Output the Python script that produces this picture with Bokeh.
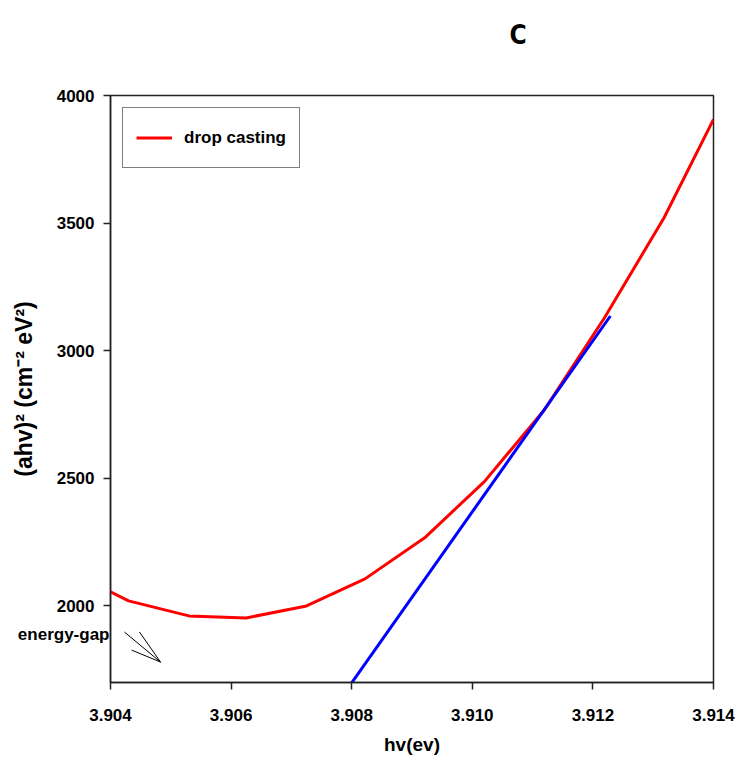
from bokeh.plotting import figure
from bokeh.models import Legend, LegendItem, FixedTicker, LinearAxis, Title
from bokeh.embed import file_html
from bokeh.resources import INLINE

# data
hv = [3.9040, 3.90430, 3.90530, 3.90625, 3.90725, 3.90822, 3.90921, 3.91020,
      3.91120, 3.91219, 3.91318, 3.9140]
ahv2 = [2055, 2020, 1961, 1953, 2000, 2106, 2267, 2487, 2770, 3128, 3521, 3906]

fit_hv = [3.90795, 3.91229]
fit_val = [1682, 3136]

arrow_x0 = [3.90423, 3.90448, 3.90435]
arrow_y0 = [1898, 1898, 1827]
arrow_x1 = [3.90483, 3.90483, 3.90483]
arrow_y1 = [1780, 1780, 1780]

x_ticks = [3.904, 3.906, 3.908, 3.910, 3.912, 3.914]
y_ticks = [2000, 2500, 3000, 3500, 4000]
gap_tick = [1890]

FONT = "Liberation Sans"

p = figure(width=736, height=758, output_backend="svg", toolbar_location=None,
           x_range=(3.904, 3.914), y_range=(1700, 4000),
           min_border_left=110, min_border_right=23, min_border_top=95,
           min_border_bottom=76)
p.frame_width = 603
p.frame_height = 587
p.background_fill_color = "white"
p.border_fill_color = "white"
p.outline_line_color = "#222222"
p.outline_line_width = 1.5
p.grid.visible = False

r_red = p.line(hv, ahv2, line_color="#ff0000", line_width=3)
p.line(fit_hv, fit_val, line_color="#0000ff", line_width=3)
p.segment(x0=arrow_x0, y0=arrow_y0, x1=arrow_x1, y1=arrow_y1,
          line_color="black", line_width=1)

for ax in (p.xaxis[0], p.yaxis[0]):
    ax.axis_line_color = "#222222"
    ax.axis_line_width = 1.5
    ax.major_tick_line_color = "#222222"
    ax.major_tick_line_width = 1.5
    ax.major_tick_out = 7
    ax.major_tick_in = 0
    ax.minor_tick_line_color = None
    ax.major_label_text_font = FONT
    ax.major_label_text_font_style = "bold"
    ax.major_label_text_font_size = "17px"
    ax.major_label_text_color = "black"
    ax.axis_label_text_font = FONT
    ax.axis_label_text_font_style = "bold"
    ax.axis_label_text_color = "black"

p.xaxis.ticker = FixedTicker(ticks=x_ticks)
p.yaxis.ticker = FixedTicker(ticks=y_ticks)
p.xaxis.major_label_overrides = {t: f"{t:.3f}" for t in x_ticks}
p.yaxis.major_label_overrides = {t: str(t) for t in y_ticks}
p.xaxis.major_label_standoff = 19
p.yaxis.major_label_standoff = 9
p.xaxis.axis_label = "hv(ev)"
p.xaxis.axis_label_text_font_size = "19px"
p.xaxis.axis_label_standoff = 10
p.yaxis.axis_label = "(ahv)² (cm⁻² eV²)"
p.yaxis.axis_label_text_font_size = "23px"
p.yaxis.axis_label_standoff = 17

# second left axis carrying only the "energy-gap" note, pulled back next to the frame
gap_axis = LinearAxis(ticker=FixedTicker(ticks=gap_tick),
                      major_label_overrides={gap_tick[0]: "energy-gap"},
                      axis_line_color=None, major_tick_line_color=None,
                      minor_tick_line_color=None, major_tick_out=0,
                      major_tick_in=0, major_label_standoff=-102,
                      major_label_text_font=FONT,
                      major_label_text_font_style="bold",
                      major_label_text_font_size="17px",
                      major_label_text_color="black")
p.add_layout(gap_axis, "left")

legend = Legend(items=[LegendItem(label="drop casting", renderers=[r_red])],
                location="top_left", margin=12, padding=13,
                label_text_font=FONT, label_text_font_style="bold",
                label_text_font_size="17px", label_text_color="black",
                border_line_color="black", border_line_width=1.2,
                glyph_width=36, label_standoff=12, spacing=0,
                label_height=33, glyph_height=33)
p.add_layout(legend)

p.add_layout(Title(text="C\n ", align="left", offset=399, standoff=28,
                   vertical_align="top",
                   text_font="DejaVu Sans Condensed", text_font_style="bold",
                   text_font_size="26px", text_color="black"), "above")

open("out.html", "w").write(file_html(p, INLINE))
